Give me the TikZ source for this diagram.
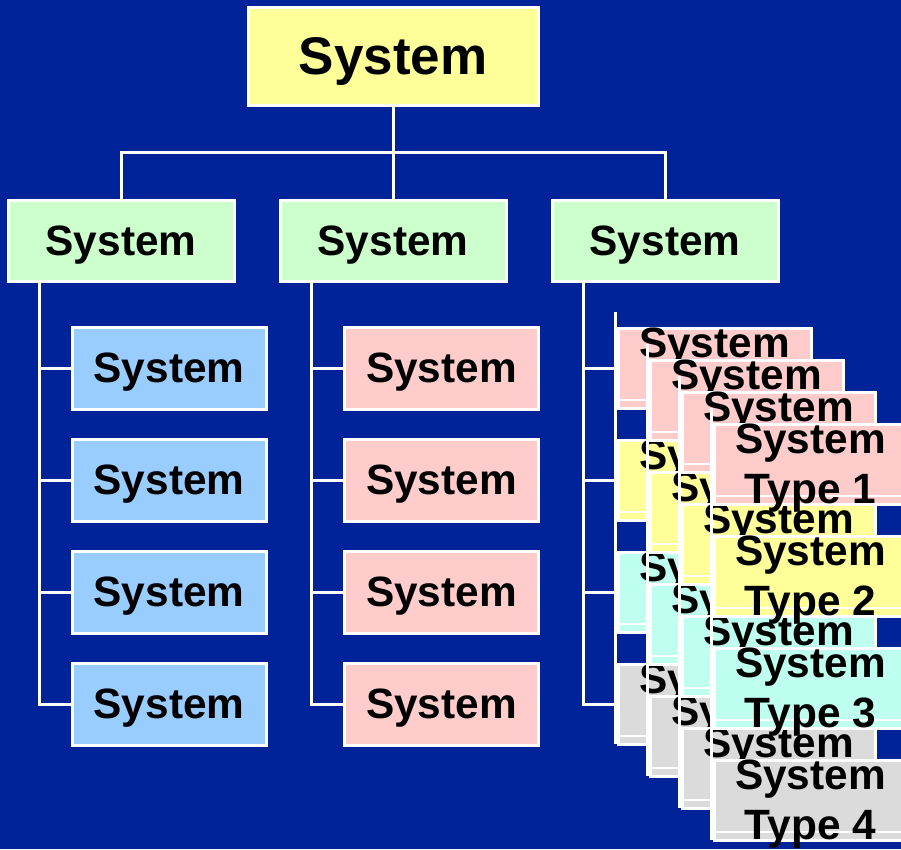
\documentclass[tikz,border=0pt]{standalone}
\usepackage{fontspec}
\setmainfont{Liberation Sans}

\definecolor{bgblue}{RGB}{0,35,153}
\definecolor{topyellow}{RGB}{255,255,153}
\definecolor{midgreen}{RGB}{204,255,204}
\definecolor{colblue}{RGB}{153,204,255}
\definecolor{colpink}{RGB}{255,204,204}
\definecolor{cardyellow}{RGB}{255,255,153}
\definecolor{cardcyan}{RGB}{190,255,240}
\definecolor{cardgray}{RGB}{219,219,219}

\begin{document}
\begin{tikzpicture}[x=1pt,y=-1pt,
	box/.style={draw=white, line width=3pt, inner sep=0pt, outer sep=0pt, text depth=0pt,
		font=\bfseries\fontsize{42.4}{50}\selectfont},
	midbox/.style={box, fill=midgreen, minimum width=226, minimum height=81},
	colbox/.style={box, minimum width=194, minimum height=82},
	cardbox/.style={box, minimum width=193, minimum height=80},
	cardtext/.style={inner sep=0pt, align=center, yshift=-4pt,
		font=\bfseries\fontsize{42.4}{50}\selectfont},
	wire/.style={draw=white, line width=3pt}]
	\fill[bgblue] (0,0) rectangle (901,849);
	\useasboundingbox (0,0) rectangle (901,849);

	\node[box, fill=topyellow, minimum width=290, minimum height=98,
		font=\bfseries\fontsize{53}{60}\selectfont] (top) at (393,56) {System};
	\node[midbox] (m1) at (121,240.5) {System};
	\node[midbox] (m2) at (393,240.5) {System};
	\node[midbox] (m3) at (665,240.5) {System};

	\coordinate (bus) at (393,152);
	\draw[wire] (top.south) -- (m2.north);
	\draw[wire] (m1.north) |- (bus) -| (m3.north);

	% two plain columns
	\foreach \r in {1,...,4} {
		\node[colbox, fill=colblue] (c1\r) at (169,{368+112*(\r-1)}) {System};
		\node[colbox, fill=colpink] (c2\r) at (441.5,{368+112*(\r-1)}) {System};
		\draw[wire] ([xshift=31pt]m1.south west) |- (c1\r.west);
		\draw[wire] ([xshift=31pt]m2.south west) |- (c2\r.west);
	}

	% stacked cards of the third column
	\foreach \k in {0,...,3} {
		\foreach \r/\c in {1/colpink,2/cardyellow,3/cardcyan,4/cardgray} {
			\node[cardbox, fill=\c] (L\k\r) at ({714.5+32*\k},{368+112*(\r-1)+32*\k}) {};
			\draw[white, line width=2pt] ([yshift=8pt]L\k\r.south west) -- ([yshift=8pt]L\k\r.south east);
			\node[cardtext] (T\k\r) at (L\k\r) {System\\Type \r};
		}
		\draw[wire] ([xshift=-3pt,yshift=16pt]L\k1.north west) -- ([xshift=-3pt]L\k4.south west);
	}
	\foreach \r in {1,...,4}
		\draw[wire] ([xshift=31pt]m3.south west) |- ([xshift=-3pt]L0\r.west);
\end{tikzpicture}
\end{document}
